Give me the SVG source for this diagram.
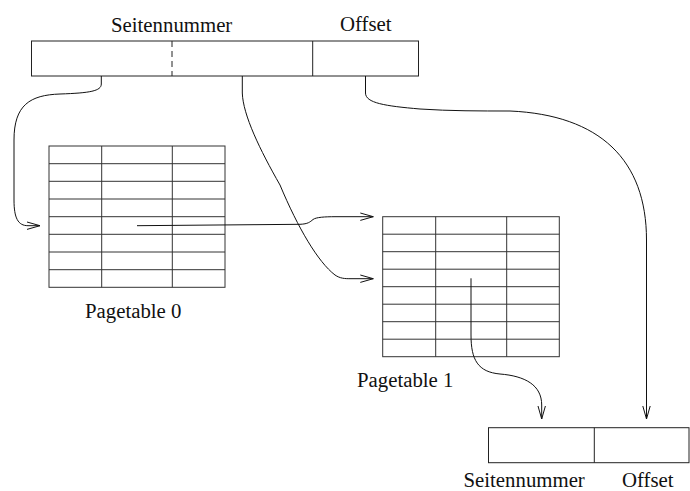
<svg xmlns="http://www.w3.org/2000/svg" width="690" height="491" viewBox="0 0 690 491">
<defs>
<style>
.box{fill:none;stroke:#222;stroke-width:1}
.grid{fill:none;stroke:#333;stroke-width:1}
.con{fill:none;stroke:#111;stroke-width:1;marker-end:url(#arr)}
.lbl{font-family:"Liberation Serif","Times New Roman",serif;font-size:20.8px;fill:#111}
</style>
<marker id="arr" viewBox="0 0 14 9" refX="13" refY="4.5" markerWidth="14" markerHeight="9" markerUnits="userSpaceOnUse" orient="auto">
<path d="M0,0.8 L13,4.5 L0,8.2" fill="none" stroke="#111" stroke-width="1"/>
</marker>
</defs>
<rect width="690" height="491" fill="#fff"/>

<g id="address">
<rect class="box" x="31.5" y="41" width="387" height="35"/>
<line x1="172" y1="41" x2="172" y2="76" stroke="#222" stroke-width="1" stroke-dasharray="6,4"/>
<line class="box" x1="312.7" y1="41" x2="312.7" y2="76"/>
<text class="lbl" x="111" y="32">Seitennummer</text>
<text class="lbl" x="340" y="31">Offset</text>
</g>

<g id="pagetable0">
<rect class="grid" x="49" y="146" width="176" height="141.3"/>
<line class="grid" x1="101.7" y1="146" x2="101.7" y2="287.3"/>
<line class="grid" x1="172.3" y1="146" x2="172.3" y2="287.3"/>
<path class="grid" d="M49,163.7H225M49,181.3H225M49,199H225M49,216.7H225M49,234.3H225M49,252H225M49,269.7H225"/>
<text class="lbl" x="85" y="318.3">Pagetable 0</text>
</g>

<g id="pagetable1">
<rect class="grid" x="382.7" y="216.7" width="176.6" height="140"/>
<line class="grid" x1="435.7" y1="216.7" x2="435.7" y2="356.7"/>
<line class="grid" x1="506.7" y1="216.7" x2="506.7" y2="356.7"/>
<path class="grid" d="M382.7,234.2H559.3M382.7,251.7H559.3M382.7,269.2H559.3M382.7,286.7H559.3M382.7,304.2H559.3M382.7,321.7H559.3M382.7,339.2H559.3"/>
<text class="lbl" x="357" y="386.7">Pagetable 1</text>
</g>

<g id="result">
<rect class="box" x="488.5" y="427.7" width="200.5" height="35"/>
<line class="box" x1="594.3" y1="427.7" x2="594.3" y2="462.7"/>
<text class="lbl" x="463.5" y="486.7">Seitennummer</text>
<text class="lbl" x="622" y="486.7">Offset</text>
</g>

<g id="connectors">
<path class="con" d="M101.3,76 V84 C101.3,91 90,93 60,94 C30,95 14,105 14,140 V200 C14,218 18,225.7 28,225.7 L40,225.7"/>
<path class="con" d="M137,225.7 L300,224.3 C308,224 310,222 313,219.5 C316,217.2 325,216.7 335,216.7 L373.3,216.7"/>
<path class="con" d="M242.3,76 V93 C243,115 260,150 280,185 C298,228 318,262 335,275 C340,278.5 345,278.7 350,278.7 L373.3,278.7"/>
<path class="con" d="M365.5,76 V93 C365.5,103 385,106 420,109 C450,111 480,111 510,111 C600,115 646.5,160 646.5,240 V419"/>
<path class="con" d="M471,278.3 V335 C471,360 478,372 500,374 C525,376 541.7,385 541.7,405 V419"/>
</g>
</svg>
